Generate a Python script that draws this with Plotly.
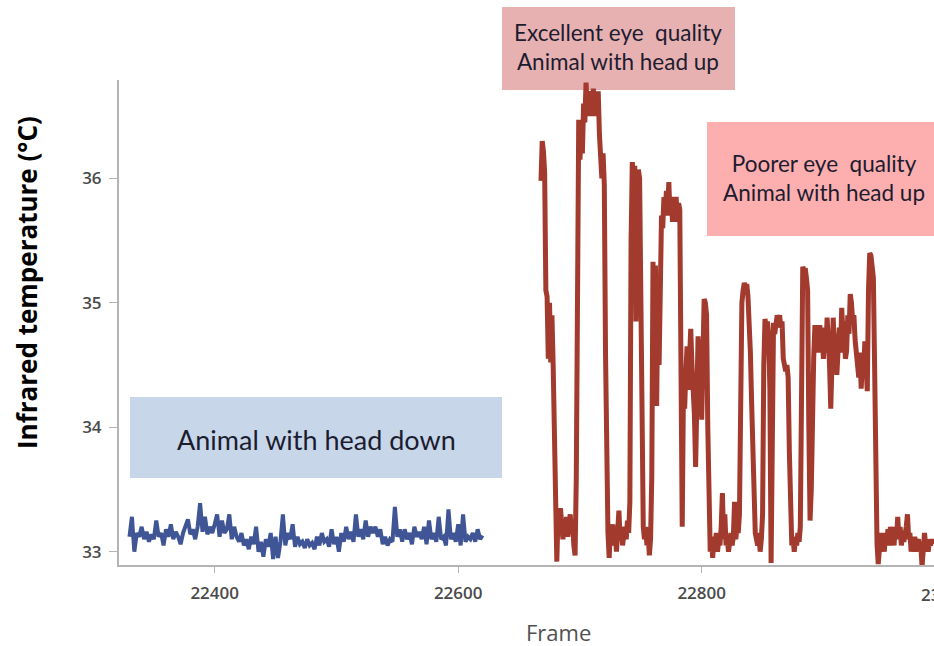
import numpy as np
import plotly.graph_objects as go

# ---------------- data ----------------
head_down_start = 22330
head_down_step = 2
head_down_temp = [
    33.12, 33.28, 33.00, 33.15, 33.12, 33.20, 33.10, 33.16, 33.08, 33.14,
    33.10, 33.25, 33.12, 33.15, 33.05, 33.18, 33.12, 33.22, 33.10, 33.16,
    33.12, 33.06, 33.15, 33.20, 33.26, 33.14, 33.18, 33.10, 33.20, 33.39,
    33.16, 33.28, 33.14, 33.20, 33.15, 33.22, 33.30, 33.12, 33.25, 33.15,
    33.18, 33.30, 33.10, 33.20, 33.12, 33.08, 33.15, 33.05, 33.10, 33.02,
    33.12, 33.06, 33.20, 33.00, 33.08, 32.96, 33.10, 33.04, 33.15, 32.94,
    33.12, 32.95, 33.08, 33.30, 33.05, 33.15, 33.10, 33.22, 33.04, 33.12,
    33.06, 33.08, 33.03, 33.10, 33.05, 33.07, 33.02, 33.12, 33.05, 33.15,
    33.08, 33.10, 33.04, 33.18, 33.06, 33.12, 33.00, 33.15, 33.08, 33.20,
    33.10, 33.16, 33.08, 33.30, 33.12, 33.18, 33.10, 33.25, 33.12, 33.20,
    33.15, 33.20, 33.12, 33.18, 33.06, 33.12, 33.05, 33.10, 33.08, 33.36,
    33.12, 33.18, 33.08, 33.18, 33.10, 33.15, 33.06, 33.20, 33.12, 33.16,
    33.10, 33.20, 33.06, 33.25, 33.10, 33.15, 33.08, 33.28, 33.10, 33.12,
    33.05, 33.34, 33.10, 33.15, 33.08, 33.22, 33.05, 33.30, 33.08, 33.12,
    33.10, 33.15, 33.08, 33.18, 33.10, 33.13,
]

head_up_start = 22668
head_up_temp = [
    35.98, 36.30, 36.22, 36.05, 35.10, 35.05, 34.55, 35.00, 34.52, 34.90,  # 22668
    34.50, 33.90, 33.39, 32.92, 33.30, 33.15, 33.35, 33.20, 33.10, 33.22,  # 22678
    33.15, 33.28, 33.12, 33.20, 33.30, 33.15, 33.22, 33.05, 32.97, 33.60,  # 22688
    36.10, 36.47, 36.15, 36.35, 36.20, 36.60, 36.45, 36.77, 36.55, 36.70,  # 22698
    36.50, 36.65, 36.55, 36.72, 36.50, 36.68, 36.55, 36.70, 36.35, 36.23,  # 22708
    36.00, 36.20, 35.95, 34.60, 33.30, 33.15, 32.95, 33.20, 33.10, 33.22,  # 22718
    33.05, 33.15, 33.00, 33.20, 33.33, 33.10, 33.20, 33.05, 33.15, 33.20,  # 22728
    33.10, 33.25, 33.15, 33.40, 35.50, 36.13, 36.00, 36.10, 34.85, 36.05,  # 22738
    36.07, 36.00, 35.00, 33.90, 33.20, 33.10, 33.20, 33.05, 33.15, 32.97,  # 22748
    33.10, 33.60, 35.33, 34.20, 35.30, 34.17, 35.10, 34.50, 35.50, 35.70,  # 22758
    35.60, 35.85, 35.70, 35.90, 35.75, 35.97, 35.70, 35.85, 35.65, 35.80,  # 22768
    35.70, 35.85, 35.65, 35.80, 35.75, 34.50, 33.20, 34.30, 34.15, 34.45,  # 22778
    34.65, 34.30, 34.50, 34.79, 34.50, 34.30, 34.10, 33.68, 34.40, 34.73,  # 22788
    34.50, 34.70, 34.06, 34.50, 35.03, 35.00, 34.90, 34.00, 33.10, 33.00,  # 22798
    33.12, 32.95, 33.10, 33.05, 33.15, 33.00, 33.10, 33.05, 33.20, 33.47,  # 22808
    33.10, 33.30, 33.05, 33.12, 33.00, 33.08, 33.15, 33.05, 33.12, 33.40,  # 22818
    33.10, 33.20, 33.15, 33.30, 34.50, 35.00, 35.10, 35.16, 35.12, 35.15,  # 22828
    35.05, 34.90, 34.60, 34.20, 33.80, 33.40, 33.15, 33.10, 33.05, 33.15,  # 22838
    33.00, 33.10, 33.30, 34.50, 34.87, 34.80, 34.85, 34.75, 34.30, 32.91,  # 22848
    34.80, 34.84, 34.75, 34.85, 34.90, 34.85, 34.90, 34.80, 34.85, 34.55,  # 22858
    34.49, 34.45, 34.50, 34.40, 33.80, 33.15, 33.05, 33.12, 33.00, 33.10,  # 22868
    33.05, 33.15, 33.08, 33.20, 34.50, 35.29, 35.25, 35.28, 35.20, 35.10,  # 22878
    34.00, 33.25, 33.50, 34.20, 34.56, 34.82, 34.70, 34.82, 34.60, 34.82,  # 22888
    34.65, 34.72, 34.55, 34.80, 34.60, 34.88, 34.70, 34.50, 34.15, 34.70,  # 22898
    34.88, 34.60, 34.75, 34.42, 34.70, 34.80, 34.60, 34.96, 34.75, 34.85,  # 22908
    34.55, 34.61, 34.90, 34.75, 35.07, 35.00, 34.85, 34.90, 34.70, 34.60,  # 22918
    34.55, 34.40, 34.60, 34.31, 34.55, 34.45, 34.69, 34.35, 34.29, 35.10,  # 22928
    35.40, 35.38, 35.30, 35.20, 34.50, 33.30, 33.06, 32.90, 33.10, 33.15,  # 22938
    33.05, 33.12, 33.00, 33.15, 33.08, 33.18, 33.05, 33.20, 33.10, 33.15,  # 22948
    33.05, 33.20, 33.10, 33.28, 33.10, 33.20, 33.05, 33.15, 33.08, 33.12,  # 22958
    33.20, 33.30, 33.10, 33.15, 33.00, 33.10, 33.05, 33.12, 33.00, 33.08,  # 22968
    33.10, 33.02, 33.05, 32.88, 33.10, 33.15, 33.05, 33.10, 33.00, 33.08,  # 22978
    33.05, 33.10, 33.06,                                                   # 22988
]

y_ticks = [33, 34, 35, 36]
x_ticks = [22400, 22600, 22800]
cut_tick = 23000

label_head_down = "Animal with head down"
label_excellent = "Excellent eye  quality<br>Animal with head up"
label_poorer = "Poorer eye  quality<br>Animal with head up"
y_title = "Infrared temperature (°C)"
x_title = "Frame"

# ---------------- figure ----------------
W, H = 934, 646
ML, MR, MT, MB = 119, 0, 80, 81
PW, PH = W - ML - MR, H - MT - MB
x_range = [22321.4, 22990.8]
y_range = [32.893, 36.79]


def px(x):
    return (x - ML) / PW


def py(y):
    return (H - MB - y) / PH


down_x = head_down_start + head_down_step * np.arange(len(head_down_temp))
up_x = head_up_start + np.arange(len(head_up_temp))

fig = go.Figure()
fig.add_trace(go.Scatter(x=down_x, y=head_down_temp, mode="lines",
                         line=dict(color="#3f5596", width=4), showlegend=False))
fig.add_trace(go.Scatter(x=up_x, y=head_up_temp, mode="lines",
                         line=dict(color="#a23a2e", width=5), showlegend=False))

shapes = [
    dict(type="rect", xref="paper", yref="paper", x0=px(130), x1=px(502), y0=py(478), y1=py(397),
         fillcolor="#c7d7e9", line=dict(width=0), layer="below"),
    dict(type="rect", xref="paper", yref="paper", x0=px(502), x1=px(735), y0=py(90), y1=py(7),
         fillcolor="#e8b1b1", line=dict(width=0), layer="below"),
    dict(type="rect", xref="paper", yref="paper", x0=px(707), x1=px(934), y0=py(236), y1=py(122),
         fillcolor="#fdafaf", line=dict(width=0), layer="below"),
]

box_font = dict(family="Lato, Open Sans, sans-serif", color="#1c1c30")
annotations = [
    dict(text=label_head_down, xref="paper", yref="paper", x=px(316), y=py(439),
         showarrow=False, font=dict(size=27, **box_font), xanchor="center", yanchor="middle"),
    dict(text=label_excellent, xref="paper", yref="paper", x=px(618), y=py(47),
         showarrow=False, font=dict(size=22.5, **box_font), xanchor="center", yanchor="middle"),
    dict(text=label_poorer, xref="paper", yref="paper", x=px(824), y=py(178),
         showarrow=False, font=dict(size=22.5, **box_font), xanchor="center", yanchor="middle"),
    dict(text=y_title, xref="paper", yref="paper", x=px(27), y=py(283), textangle=-90,
         showarrow=False, font=dict(size=26, family="Open Sans, sans-serif", color="#000000", weight=700),
         xanchor="center", yanchor="middle"),
    dict(text=x_title, xref="paper", yref="paper", x=px(558), y=py(632),
         showarrow=False, font=dict(size=22, family="Open Sans, sans-serif", color="#505050"),
         xanchor="center", yanchor="middle"),
    dict(text=str(cut_tick), xref="paper", yref="paper",
         x=(cut_tick - x_range[0]) / (x_range[1] - x_range[0]), y=py(594),
         showarrow=False, font=dict(size=17, family="Open Sans, sans-serif", color="#4a4a4a", weight=600),
         xanchor="center", yanchor="middle"),
]

tickfont = dict(size=17, family="Open Sans, sans-serif", color="#4a4a4a", weight=600)
fig.update_layout(
    width=W, height=H,
    margin=dict(l=ML, r=MR, t=MT, b=MB, pad=0),
    paper_bgcolor="white", plot_bgcolor="white",
    shapes=shapes, annotations=annotations,
    xaxis=dict(range=x_range, tickvals=x_ticks, ticktext=[str(v) for v in x_ticks],
               showgrid=False, zeroline=False, showline=True, linecolor="#b4b4b4", linewidth=2,
               ticks="outside", ticklen=6, tickcolor="#b4b4b4", tickwidth=1, tickfont=tickfont,
               ticklabelstandoff=6),
    yaxis=dict(range=y_range, tickvals=y_ticks, ticktext=[str(v) for v in y_ticks],
               showgrid=False, zeroline=False, showline=True, linecolor="#b4b4b4", linewidth=2,
               ticks="outside", ticklen=8, tickcolor="#b4b4b4", tickwidth=1, tickfont=tickfont,
               ticklabelstandoff=4),
)

fig.write_html("out.html")
